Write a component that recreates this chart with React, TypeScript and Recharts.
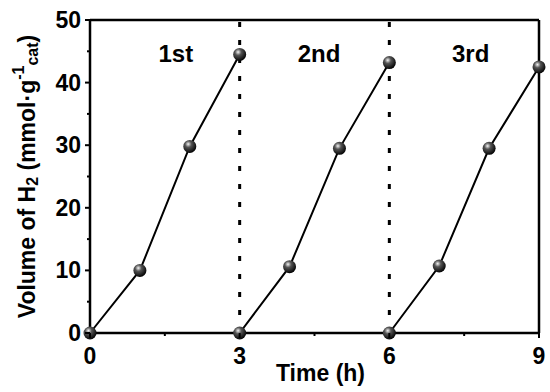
import React from 'react';
import { LineChart, Line, XAxis, YAxis, ReferenceLine, ReferenceDot, Label } from 'recharts';

const cycleHours = [0, 1, 2, 3];
const run1 = [0, 10, 29.8, 44.5];
const run2 = [0, 10.6, 29.5, 43.2];
const run3 = [0, 10.7, 29.5, 42.5];
const runOffsets = [0, 3, 6];
const runNames = ['1st', '2nd', '3rd'];
const runLabelX = [1.72, 4.59, 7.63];
const runLabelY = 44.7;
const xTicks = [0, 1.5, 3, 4.5, 6, 7.5, 9];
const xLabels = [0, 3, 6, 9];
const yTicks = [0, 5, 10, 15, 20, 25, 30, 35, 40, 45, 50];
const yLabels = [0, 10, 20, 30, 40, 50];
const dividers = [3, 6];

const FONT = '"Liberation Sans", Arial, sans-serif';

const series = [run1, run2, run3].map((vals, i) =>
  cycleHours.map((h, j) => ({ t: h + runOffsets[i], v: vals[j] }))
);

const Ball = (props: any) => {
  const { cx, cy } = props;
  if (cx == null || cy == null) return null;
  return <circle cx={cx} cy={cy} r={6.5} fill="url(#ball)" />;
};

const XTick = ({ x, y, payload }: any) => {
  const major = xLabels.includes(payload.value);
  return (
    <g>
      <line x1={x} x2={x} y1={y - 2} y2={y - 2 + (major ? 5 : 3)} stroke="#000" strokeWidth={2} />
      {major && (
        <text x={x} y={y + 29} textAnchor="middle" fontFamily={FONT} fontWeight="bold" fontSize={23} fill="#000">
          {payload.value}
        </text>
      )}
    </g>
  );
};

const YTick = ({ x, y, payload }: any) => {
  const major = yLabels.includes(payload.value);
  return (
    <g>
      <line x1={x + 2} x2={x + 2 - (major ? 5 : 3)} y1={y} y2={y} stroke="#000" strokeWidth={2} />
      {major && (
        <text x={x - 7} y={y + 8} textAnchor="end" fontFamily={FONT} fontWeight="bold" fontSize={23} fill="#000">
          {payload.value}
        </text>
      )}
    </g>
  );
};

const YTitle = ({ viewBox }: any) => {
  const cx = 27;
  const cy = viewBox.y + viewBox.height / 2;
  return (
    <text
      x={cx}
      y={cy}
      transform={`rotate(-90 ${cx} ${cy})`}
      textAnchor="middle"
      dominantBaseline="central"
      fontFamily={FONT}
      fontWeight="bold"
      fontSize={23}
      fill="#000"
    >
      Volume of H
      <tspan fontSize={16} dy={5}>2</tspan>
      <tspan dy={-5}> (mmol·g</tspan>
      <tspan fontSize={16} dy={-9}>-1</tspan>
      <tspan fontSize={16} dy={14}>cat</tspan>
      <tspan dy={-5}>)</tspan>
    </text>
  );
};

const RunLabel = (name: string) => (props: any) => (
  <text
    x={props.cx}
    y={props.cy}
    textAnchor="middle"
    dominantBaseline="central"
    fontFamily={FONT}
    fontWeight="bold"
    fontSize={24}
    fill="#000"
  >
    {name}
  </text>
);

export default function App() {
  return (
    <div style={{ position: 'absolute', left: 0, top: 0, background: '#fff' }}>
      <LineChart width={550} height={392} margin={{ top: 20, right: 11, left: 0, bottom: 0 }}>
        <defs>
          <radialGradient id="ball" cx="0.38" cy="0.32" r="0.7">
            <stop offset="0" stopColor="#f4f4f4" />
            <stop offset="0.35" stopColor="#555" />
            <stop offset="1" stopColor="#000" />
          </radialGradient>
        </defs>
        <XAxis
          dataKey="t"
          type="number"
          domain={[0, 9]}
          ticks={xTicks}
          interval={0}
          allowDuplicatedCategory={false}
          height={59}
          stroke="#000"
          strokeWidth={2.5}
          tickLine={false}
          tick={<XTick />}
          tickSize={0}
        >
          <Label
            value="Time (h)"
            position="insideBottom"
            offset={11}
            style={{ fontFamily: FONT, fontWeight: 'bold', fontSize: 23, fill: '#000' }}
            dx={6}
          />
        </XAxis>
        <YAxis
          type="number"
          domain={[0, 50]}
          ticks={yTicks}
          interval={0}
          width={90}
          stroke="#000"
          strokeWidth={2.5}
          tickLine={false}
          tick={<YTick />}
          tickSize={0}
        >
          <Label content={<YTitle />} />
        </YAxis>
        <ReferenceLine y={50} stroke="#000" strokeWidth={2.5} />
        <ReferenceLine x={9} stroke="#000" strokeWidth={2.5} />
        {dividers.map((d) => (
          <ReferenceLine key={d} x={d} stroke="#000" strokeWidth={3} strokeDasharray="5 13" />
        ))}
        {runNames.map((n, i) => (
          <ReferenceDot key={n} x={runLabelX[i]} y={runLabelY} shape={RunLabel(n)} />
        ))}
        {series.map((d, i) => (
          <Line
            key={i}
            data={d}
            dataKey="v"
            stroke="#000"
            strokeWidth={2}
            dot={<Ball />}
            activeDot={false}
            isAnimationActive={false}
          />
        ))}
      </LineChart>
    </div>
  );
}
